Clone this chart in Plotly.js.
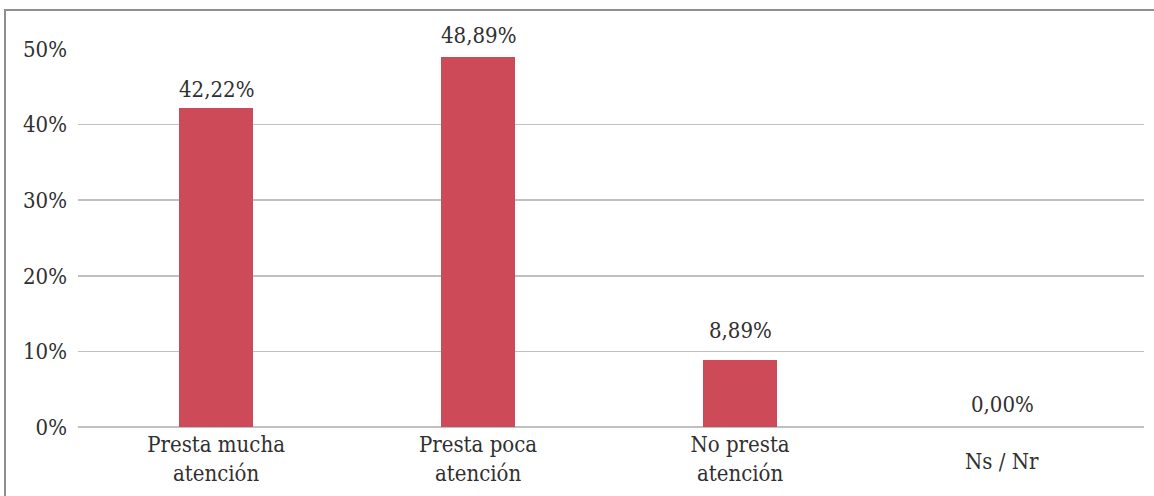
<!DOCTYPE html>
<html>
<head>
<meta charset="utf-8">
<script src="https://cdn.plot.ly/plotly-3.0.1.min.js"></script>
<style>
html,body{margin:0;padding:0;background:#fff;}
#wrap{position:relative;width:1154px;height:496px;overflow:hidden;}
#frame{position:absolute;left:4px;top:9px;width:1200px;height:600px;border-top:2px solid #8f8f8f;border-left:2px solid #8f8f8f;box-sizing:border-box;pointer-events:none;z-index:5;}
#chart{position:absolute;left:0;top:0;width:1154px;height:496px;}
</style>
</head>
<body>
<div id="wrap">
<div id="chart"></div>
<div id="frame"></div>
</div>
<script>
const categories = ["Presta mucha<br>atención", "Presta poca<br>atención", "No presta<br>atención", "Ns / Nr"];
const values = [0.4222, 0.4889, 0.0889, 0.0];
const yTickVals = [0, 0.1, 0.2, 0.3, 0.4, 0.5];

const FONT = "'DejaVu Serif Condensed', 'DejaVu Serif', serif";
const FS = 22;
const TXT = '#303030';
const xs = categories.map((c, i) => i);
const firstLines = categories.map(c => c.split('<br>')[0]);
const secondLines = categories.map(c => c.split('<br>')[1] || '');
const singleLine = categories.map(c => c.indexOf('<br>') < 0);
// label offsets above each bar (pixels), as placed in the original
const labelShift = [18, 22, 29, 23];

const trace = {
  type: 'bar',
  x: xs,
  y: values,
  width: 0.282,
  marker: {color: '#CD4A59'},
  hoverinfo: 'none'
};

const annotations = [];
values.forEach((v, i) => {
  annotations.push({x: xs[i], y: v, xref: 'x', yref: 'y',
    text: (v * 100).toFixed(2).replace('.', ',') + '%',
    showarrow: false, yanchor: 'middle', yshift: labelShift[i],
    font: {family: FONT, size: FS, color: TXT}});
});
categories.forEach((c, i) => {
  if (singleLine[i]) {
    annotations.push({x: xs[i], y: 0, xref: 'x', yref: 'y', text: c, showarrow: false,
      yanchor: 'top', yshift: -20, font: {family: FONT, size: FS, color: TXT}});
  } else {
    annotations.push({x: xs[i], y: 0, xref: 'x', yref: 'y', text: secondLines[i], showarrow: false,
      yanchor: 'top', yshift: -32, font: {family: FONT, size: FS, color: TXT}});
  }
});

const layout = {
  width: 1154, height: 496,
  margin: {l: 78, r: 10, t: 49, b: 69},
  paper_bgcolor: '#ffffff', plot_bgcolor: '#ffffff',
  separators: ',.',
  showlegend: false,
  font: {family: FONT, size: FS, color: TXT},
  xaxis: {
    range: [-0.527, 3.542],
    tickvals: xs,
    ticktext: firstLines.map((t, i) => singleLine[i] ? '' : t),
    showgrid: false, zeroline: false, showline: false,
    ticks: '', ticklabelstandoff: 2,
    tickfont: {family: FONT, size: FS, color: TXT}
  },
  yaxis: {
    range: [0, 0.5],
    tickvals: yTickVals,
    tickformat: '.0%',
    showgrid: true, gridcolor: '#c0c0c0', gridwidth: 1.5,
    zeroline: true, zerolinecolor: '#c0c0c0', zerolinewidth: 1.5,
    showline: false, ticks: '',
    ticklabelstandoff: 10,
    tickfont: {family: FONT, size: FS, color: TXT}
  },
  annotations: annotations,
  bargap: 0
};
Plotly.newPlot('chart', [trace], layout, {displayModeBar: false, staticPlot: true});
</script>
</body>
</html>
